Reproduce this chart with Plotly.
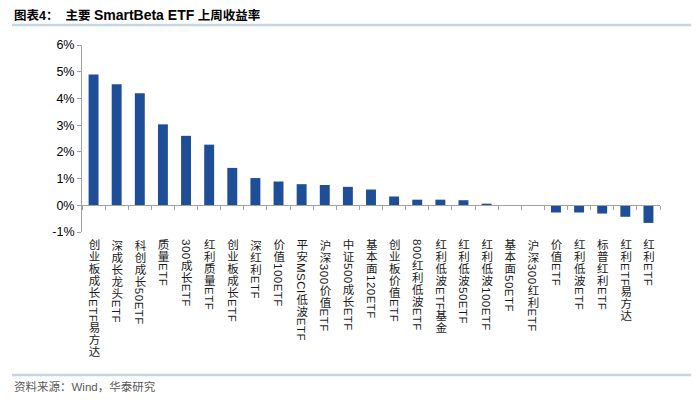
import plotly.graph_objects as go

categories = [
    "创业板成长ETF易方达", "深成长龙头ETF", "科创成长50ETF", "质量ETF", "300成长ETF",
    "红利质量ETF", "创业板成长ETF", "深红利ETF", "价值100ETF", "平安MSCI低波ETF",
    "沪深300价值ETF", "中证500成长ETF", "基本面120ETF", "创业板价值ETF", "800红利低波ETF",
    "红利低波ETF基金", "红利低波50ETF", "红利低波100ETF", "基本面50ETF", "沪深300红利ETF",
    "价值ETF", "红利低波ETF", "标普红利ETF", "红利ETF易方达", "红利ETF",
]
weekly_return_pct = [
    4.90, 4.53, 4.19, 3.03, 2.60,
    2.27, 1.40, 1.02, 0.89, 0.79,
    0.76, 0.69, 0.59, 0.33, 0.21,
    0.21, 0.19, 0.06, 0.01, -0.01,
    -0.27, -0.27, -0.31, -0.43, -0.66,
]
y_ticks = [-1, 0, 1, 2, 3, 4, 5, 6]

title_text = ("<b><span style='font-size:12.5px'>图表4：  主要 </span>"
              "SmartBeta ETF"
              "<span style='font-size:12.5px'> 上周收益率</span></b>")
source_text = "资料来源：Wind，华泰研究"

W, H = 700, 401
ML, MR, MT, MB = 82, 40, 45, 169
plot_h = H - MT - MB


def py(p):
    return (H - MB - p) / plot_h


def px(p):
    return (p - ML) / (W - ML - MR)


FONT = "Arial, 'Liberation Sans', 'Noto Sans CJK SC', sans-serif"
BAR = "#1F4E99"
AXIS = "#A0A0A0"
RULE = "#C5D5E4"

fig = go.Figure(
    go.Bar(
        x=categories,
        y=weekly_return_pct,
        marker=dict(color=BAR, line=dict(width=0)),
        hoverinfo="skip",
    )
)

y_min, y_max = min(y_ticks), max(y_ticks)

fig.update_layout(
    width=W,
    height=H,
    margin=dict(l=ML, r=MR, t=MT, b=MB, autoexpand=False),
    paper_bgcolor="white",
    plot_bgcolor="white",
    bargap=0.57,
    showlegend=False,
    font=dict(family=FONT, color="#000000", size=12),
    xaxis=dict(
        type="category",
        anchor="free",
        position=(0 - y_min) / (y_max - y_min),
        showline=True,
        linecolor=AXIS,
        linewidth=1,
        ticks="outside",
        tickson="boundaries",
        ticklen=4,
        tickcolor=AXIS,
        tickangle=0,
        tickfont=dict(size=11.5, color="#1a1a1a", family=FONT),
        showgrid=False,
        automargin=False,
        range=[-0.5, len(categories) - 0.5],
    ),
    yaxis=dict(
        range=[y_min, y_max],
        tickvals=y_ticks,
        ticktext=[f"{v}%" for v in y_ticks],
        showline=True,
        linecolor=AXIS,
        linewidth=1,
        ticks="outside",
        ticklen=4,
        tickcolor=AXIS,
        showgrid=False,
        zeroline=False,
        tickfont=dict(size=12.5, color="#000000", family=FONT),
        automargin=False,
    ),
    shapes=[
        dict(type="line", xref="paper", yref="paper", x0=px(12), x1=px(691),
             y0=py(25), y1=py(25), line=dict(color=RULE, width=2.5)),
        dict(type="line", xref="paper", yref="paper", x0=px(12), x1=px(691),
             y0=py(375), y1=py(375), line=dict(color=RULE, width=2.5)),
    ],
    annotations=[
        dict(text=title_text, xref="paper", yref="paper", x=px(12), y=py(15),
             xanchor="left", yanchor="middle", showarrow=False,
             font=dict(size=14, color="#000000", family=FONT)),
        dict(text=source_text, xref="paper", yref="paper", x=px(12), y=py(386),
             xanchor="left", yanchor="middle", showarrow=False,
             font=dict(size=11.5, color="#595959", family=FONT)),
    ],
)

post_js = """
(function(){
  document.body.style.margin = '0';
  document.body.style.padding = '0';
  var gd = document.getElementById('{plot_id}');
  function fix(){
    var svg = gd.querySelector('.main-svg');
    var sr = svg.getBoundingClientRect();
    var labels = gd.querySelectorAll('.xtick text');
    labels.forEach(function(t){
      var r0 = t.getBoundingClientRect();
      var cx = r0.left + r0.width / 2;
      t.style.writingMode = 'vertical-rl';
      t.setAttribute('writing-mode', 'tb');
      t.style.textOrientation = 'mixed';
      t.setAttribute('text-anchor', 'start');
      t.style.letterSpacing = '0.5px';
      var r1 = t.getBoundingClientRect();
      var dx = cx - (r1.left + r1.width / 2);
      var dy = (sr.top + 239) - r1.top;
      var tr = t.getAttribute('transform') || '';
      t.setAttribute('transform', tr + ' translate(' + dx + ',' + dy + ')');
    });
  }
  fix();
})();
"""

fig.write_html("out.html", post_script=post_js, config={"displayModeBar": False})
